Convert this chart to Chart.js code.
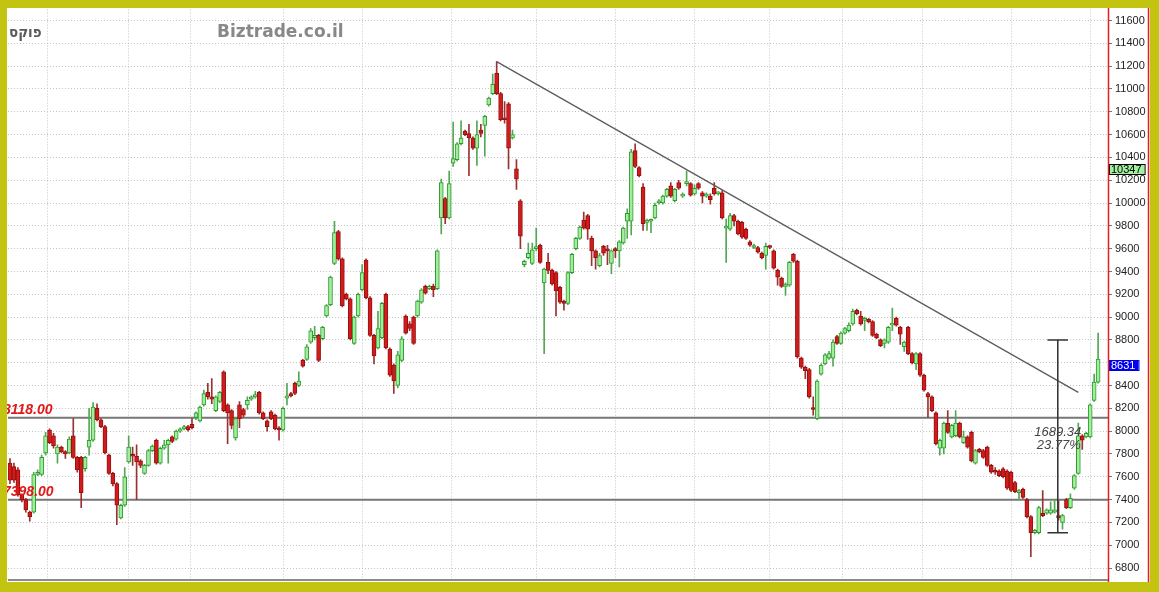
<!DOCTYPE html>
<html>
<head>
<meta charset="utf-8">
<script src="https://cdn.jsdelivr.net/npm/chart.js@4.4.1/dist/chart.umd.min.js"></script>
<style>
  body { margin: 0; background: #c3c312; }
  canvas { display: block; }
</style>
</head>
<body>
<canvas id="chart" width="1159" height="592"></canvas>
<script>
// daily candles
const openP = [
  7720, 7690, 7660, 7440, 7400, 7290, 7290, 7620, 7620, 7810,
  8010, 7960, 7800, 7860, 7820, 7810, 7960, 7770, 7770, 7670,
  7860, 7920, 8200, 8100, 8040, 7790, 7630, 7540, 7240, 7350,
  7730, 7790, 7780, 7740, 7630, 7700, 7830, 7920, 7720, 7850,
  7880, 7950, 7930, 8000, 8020, 8040, 8060, 8120, 8090, 8230,
  8340, 8300, 8180, 8260, 8520, 8230, 8180, 7940, 8230, 8190,
  8230, 8280, 8300, 8340, 8160, 8090, 8170, 8140, 8030, 8010,
  8290, 8330, 8420, 8400, 8620, 8630, 8780, 8820, 8840, 8810,
  9010, 9110, 9470, 9750, 9510, 9200, 9160, 8770, 9010, 9240,
  9500, 9170, 8840, 8730, 8820, 9200, 8720, 8580, 8400, 8620,
  9010, 8940, 9000, 9010, 9130, 9270, 9250, 9270, 9250, 9870,
  10040, 9870, 10350, 10380, 10520, 10630, 10610, 10570, 10480, 10640,
  10680, 10860, 10960, 11140, 10960, 10740, 10870, 10570, 10300, 10020,
  9460, 9520, 9470, 9600, 9630, 9300, 9480, 9410, 9390, 9260,
  9140, 9120, 9390, 9600, 9690, 9850, 9890, 9690, 9580, 9450,
  9620, 9590, 9470, 9600, 9580, 9650, 9840, 9840, 10460, 10310,
  10140, 9830, 9840, 9870, 10000, 10000, 10060, 10150, 10020, 10180,
  10060, 10170, 10170, 10080, 10170, 10090, 10060, 10060, 10130, 10080,
  10090, 9780, 9770, 9890, 9840, 9830, 9770, 9660, 9610, 9610,
  9560, 9540, 9620, 9580, 9410, 9340, 9270, 9280, 9550, 9490,
  8640, 8560, 8540, 8200, 8110, 8500, 8590, 8640, 8640, 8830,
  8770, 8860, 8880, 8940, 9060, 9010, 8970, 8980, 8960, 8850,
  8800, 8770, 8780, 8930, 8990, 8910, 8740, 8910, 8680, 8590,
  8680, 8490, 8330, 8300, 8160, 7850, 7850, 8070, 7950, 7960,
  8070, 7900, 7950, 7990, 7720, 7840, 7830, 7860, 7700, 7650,
  7650, 7670, 7650, 7640, 7550, 7460, 7490, 7400, 7250, 7110,
  7110, 7280, 7280, 7280, 7290, 7260, 7200, 7400, 7330, 7500,
  7630, 7960, 7950, 7950, 8270, 8430
];
const highP = [
  7760, 7720, 7680, 7450, 7410, 7300, 7640, 7660, 7790, 7990,
  8020, 7980, 7880, 7870, 7830, 7950, 8110, 7780, 7780, 7780,
  8200, 8250, 8240, 8110, 8050, 7800, 7640, 7550, 7360, 7680,
  7960, 7860, 7880, 7750, 7710, 7840, 7880, 7930, 7860, 7920,
  7930, 7960, 8010, 8030, 8050, 8050, 8110, 8170, 8220, 8360,
  8420, 8460, 8310, 8350, 8530, 8240, 8190, 8120, 8260, 8200,
  8300, 8310, 8350, 8350, 8170, 8100, 8180, 8150, 8040, 8210,
  8420, 8340, 8430, 8520, 8630, 8760, 8900, 8920, 8850, 8920,
  9110, 9360, 9840, 9760, 9520, 9210, 9170, 9010, 9210, 9460,
  9510, 9180, 8850, 9050, 9130, 9210, 8730, 8590, 8700, 8830,
  9020, 8960, 9010, 9150, 9250, 9280, 9280, 9290, 9590, 10210,
  10050, 10280, 10710, 10530, 10720, 10640, 10690, 10580, 10720, 10690,
  10770, 10930, 11130, 11240, 10970, 10890, 10880, 10640, 10380, 10030,
  9500, 9650, 9650, 9780, 9640, 9430, 9560, 9420, 9400, 9270,
  9150, 9400, 9560, 9700, 9800, 9920, 9900, 9710, 9590, 9560,
  9630, 9630, 9590, 9610, 9670, 9790, 9950, 10470, 10520, 10320,
  10170, 9860, 9860, 10000, 10030, 10070, 10130, 10180, 10130, 10200,
  10090, 10280, 10180, 10160, 10180, 10100, 10090, 10080, 10180, 10100,
  10110, 9860, 9910, 9900, 9850, 9840, 9780, 9670, 9640, 9620,
  9570, 9650, 9630, 9590, 9420, 9350, 9300, 9490, 9560, 9500,
  8650, 8570, 8550, 8300, 8450, 8590, 8680, 8700, 8800, 8840,
  8870, 8910, 8950, 9070, 9070, 9050, 9000, 8990, 8970, 8860,
  8810, 8810, 8920, 9080, 9000, 8920, 8790, 8920, 8690, 8690,
  8690, 8500, 8340, 8310, 8170, 7930, 8080, 8180, 8060, 8180,
  8080, 8000, 7960, 8000, 7840, 7850, 7840, 7870, 7710, 7680,
  7660, 7680, 7660, 7650, 7560, 7490, 7500, 7410, 7260, 7140,
  7340, 7480, 7320, 7380, 7400, 7390, 7270, 7410, 7450, 7620,
  8070, 7970, 7990, 8240, 8500, 8860
];
const lowP = [
  7540, 7550, 7430, 7380, 7290, 7210, 7280, 7610, 7610, 7790,
  7890, 7850, 7720, 7810, 7760, 7800, 7760, 7640, 7330, 7650,
  7790, 7910, 8090, 8030, 7800, 7620, 7520, 7180, 7230, 7340,
  7720, 7700, 7400, 7680, 7620, 7690, 7820, 7710, 7710, 7840,
  7720, 7900, 7920, 7990, 8010, 8000, 8020, 8100, 8080, 8220,
  8280, 8240, 8170, 8250, 8170, 7890, 8020, 7920, 8030, 8120,
  8190, 8270, 8290, 8150, 8100, 8000, 8100, 8010, 7920, 8000,
  8230, 8300, 8320, 8390, 8560, 8620, 8770, 8800, 8610, 8800,
  9000, 9100, 9460, 9500, 9090, 9150, 8800, 8760, 9000, 9230,
  9160, 8830, 8590, 8720, 8810, 8720, 8480, 8330, 8380, 8610,
  8850, 8880, 8760, 9000, 9120, 9200, 9240, 9180, 9240, 9730,
  9820, 9860, 10320, 10370, 10510, 10590, 10240, 10470, 10330, 10580,
  10410, 10850, 10950, 10950, 10720, 10700, 10300, 10560, 10120, 9600,
  9440, 9510, 9460, 9580, 9470, 8680, 9380, 9280, 9010, 9120,
  9060, 9110, 9380, 9590, 9680, 9770, 9680, 9450, 9420, 9440,
  9540, 9460, 9380, 9520, 9440, 9640, 9690, 9720, 10310, 10230,
  9760, 9760, 9740, 9860, 9990, 9990, 10050, 10050, 10010, 10120,
  10050, 10150, 10060, 10070, 10120, 10000, 10050, 9990, 10070, 10070,
  9860, 9480, 9760, 9800, 9720, 9690, 9680, 9620, 9600, 9560,
  9510, 9420, 9600, 9420, 9280, 9260, 9190, 9270, 9480, 8640,
  8550, 8460, 8290, 8140, 8100, 8490, 8580, 8630, 8570, 8760,
  8760, 8850, 8870, 8930, 9020, 8930, 8880, 8950, 8830, 8810,
  8740, 8730, 8770, 8880, 8920, 8760, 8700, 8670, 8590, 8540,
  8480, 8350, 8120, 8170, 7880, 7790, 7800, 7980, 7940, 7950,
  7940, 7890, 7850, 7730, 7710, 7810, 7760, 7690, 7630, 7620,
  7600, 7590, 7490, 7470, 7460, 7400, 7410, 7240, 6900, 7100,
  7100, 7250, 7270, 7270, 7280, 7220, 7140, 7320, 7320, 7490,
  7620, 7840, 7940, 7940, 8260, 8420
];
const closeP = [
  7570, 7570, 7440, 7400, 7310, 7250, 7620, 7640, 7770, 7960,
  7900, 7870, 7860, 7820, 7800, 7930, 7770, 7660, 7460, 7770,
  7920, 8210, 8100, 8040, 7810, 7630, 7540, 7350, 7350, 7600,
  7860, 7780, 7730, 7700, 7700, 7830, 7870, 7720, 7850, 7880,
  7920, 7910, 8000, 8020, 8040, 8010, 8030, 8160, 8210, 8330,
  8300, 8280, 8300, 8340, 8180, 8160, 8050, 8110, 8110, 8140,
  8270, 8300, 8320, 8160, 8110, 8040, 8110, 8020, 8010, 8200,
  8310, 8310, 8330, 8440, 8570, 8740, 8880, 8840, 8620, 8910,
  9100, 9350, 9740, 9510, 9100, 9160, 8810, 9000, 9200, 9390,
  9170, 8840, 8660, 8900, 9120, 8730, 8490, 8440, 8670, 8810,
  8860, 8900, 8770, 9140, 9240, 9210, 9270, 9240, 9580, 10180,
  9870, 10170, 10390, 10520, 10570, 10600, 10570, 10480, 10600, 10610,
  10760, 10920, 11040, 10960, 10730, 10730, 10480, 10600, 10210, 9710,
  9490, 9560, 9590, 9610, 9480, 9420, 9410, 9290, 9230, 9130,
  9120, 9390, 9550, 9690, 9790, 9780, 9770, 9580, 9520, 9540,
  9560, 9580, 9580, 9580, 9660, 9780, 9910, 10450, 10320, 10240,
  9820, 9850, 9850, 9980, 10020, 10060, 10120, 10060, 10120, 10130,
  10070, 10170, 10070, 10130, 10130, 10060, 10070, 10030, 10080, 10090,
  9870, 9790, 9890, 9840, 9730, 9700, 9690, 9630, 9620, 9570,
  9520, 9620, 9610, 9430, 9350, 9270, 9290, 9480, 9490, 8650,
  8560, 8530, 8300, 8190, 8440, 8580, 8670, 8680, 8780, 8770,
  8860, 8900, 8930, 9050, 9030, 8940, 8990, 8960, 8840, 8820,
  8750, 8800, 8910, 8940, 8930, 8850, 8780, 8680, 8600, 8680,
  8490, 8360, 8300, 8180, 7890, 7920, 8070, 7990, 8050, 8070,
  7950, 7950, 7860, 7740, 7830, 7820, 7770, 7700, 7640, 7640,
  7610, 7600, 7500, 7480, 7470, 7480, 7420, 7250, 7110, 7130,
  7330, 7260, 7310, 7310, 7310, 7240, 7260, 7330, 7410, 7610,
  7960, 7920, 7980, 8230, 8430, 8631
];

// month boundaries (candle index) and price ticks
const monthBreaks = [9.5, 30, 45.5, 69, 89, 111.5, 133, 153, 173, 192, 210.5, 230.5, 253, 273];
const yTicks = [6800, 7000, 7200, 7400, 7600, 7800, 8000, 8200, 8400, 8600, 8800, 9000,
  9200, 9400, 9600, 9800, 10000, 10200, 10400, 10600, 10800, 11000, 11200, 11400, 11600];

// drawings on the chart
const levels = [8118, 7398];
const trendX = [123, 270];
const trendY = [11240, 8340];
const measureX = 264.8;
const measureY = [8800, 7110];
const measureText = ['1689.34', '23.77%'];
const axisMarks = [
  { value: 10347, bg: '#a2f0a2', fg: '#000', border: '#000' },
  { value: 8631, bg: '#0000ee', fg: '#fff', border: '#0000ee' }
];

const YELLOW = '#c3c312';

const idx = openP.map((_, i) => i);
const up = idx.map(i => closeP[i] >= openP[i]);

const framePlugin = {
  id: 'frame',
  beforeDraw(chart) {
    const ctx = chart.ctx;
    ctx.save();
    ctx.fillStyle = '#fff';
    ctx.fillRect(0, 0, chart.width, chart.height);
    ctx.restore();
  },
  afterDatasetsDraw(chart) {
    const ctx = chart.ctx;
    const x = chart.scales.x, y = chart.scales.y;
    ctx.save();
    // level labels
    ctx.fillStyle = '#e01818';
    ctx.font = 'italic bold 14px "Liberation Sans", Arial, sans-serif';
    ctx.textAlign = 'left';
    ctx.textBaseline = 'alphabetic';
    levels.forEach(v => {
      ctx.fillText(v.toFixed(2), 3, y.getPixelForValue(v) - 4);
    });
    // measurement text
    ctx.fillStyle = '#444';
    ctx.font = 'italic 13px "Liberation Sans", Arial, sans-serif';
    ctx.textAlign = 'center';
    const mx = x.getPixelForValue(measureX);
    ctx.fillText(measureText[0], mx, 436);
    ctx.fillText(measureText[1], mx + 1, 449);

    // header texts
    ctx.textAlign = 'left';
    ctx.fillStyle = '#5a5a5a';
    ctx.font = 'bold 15px "DejaVu Sans Condensed", "DejaVu Sans", sans-serif';
    ctx.fillText('פוקס', 9, 37);
    ctx.fillStyle = '#888';
    ctx.font = 'bold 17px "DejaVu Sans", sans-serif';
    ctx.fillText('Biztrade.co.il', 217, 37);

    // bottom axis line
    ctx.strokeStyle = '#8a8a8a';
    ctx.lineWidth = 2;
    ctx.beginPath();
    ctx.moveTo(chart.chartArea.left, 580);
    ctx.lineTo(chart.chartArea.right, 580);
    ctx.stroke();
    ctx.restore();
  },
  afterDraw(chart) {
    const ctx = chart.ctx;
    const y = chart.scales.y;
    const right = chart.chartArea.right;
    ctx.save();
    // price boxes on the axis
    ctx.font = '11px "Liberation Sans", Arial, sans-serif';
    ctx.textBaseline = 'middle';
    ctx.textAlign = 'left';
    axisMarks.forEach(m => {
      const top = Math.round(y.getPixelForValue(m.value)) + 1;
      const txt = String(m.value);
      const w = ctx.measureText(txt).width + 5;
      ctx.fillStyle = m.bg;
      ctx.fillRect(right + 1, top, w, 11);
      ctx.strokeStyle = m.border;
      ctx.lineWidth = 1;
      ctx.strokeRect(right + 1.5, top + 0.5, w, 10);
      ctx.fillStyle = m.fg;
      ctx.fillText(txt, right + 3, top + 6);
    });
    // frame
    ctx.fillStyle = YELLOW;
    ctx.fillRect(0, 0, 7, chart.height);
    ctx.fillRect(0, 0, chart.width, 8);
    ctx.fillRect(1150, 0, chart.width - 1150, chart.height);
    ctx.fillRect(0, 582, chart.width, chart.height - 582);
    // red separators
    ctx.strokeStyle = '#e02020';
    ctx.lineWidth = 1.5;
    ctx.beginPath();
    ctx.moveTo(right + 0.5, 8); ctx.lineTo(right + 0.5, 582);
    ctx.moveTo(1148.5, 8); ctx.lineTo(1148.5, 582);
    ctx.stroke();
    ctx.restore();
  }
};

const lineBase = { type: 'line', pointRadius: 0, fill: false, tension: 0 };

new Chart(document.getElementById('chart'), {
  type: 'bar',
  data: {
    datasets: [
      {
        ...lineBase,
        data: [{ x: -0.5, y: levels[0] }, { x: 277.5, y: levels[0] }],
        borderColor: '#777', borderWidth: 2, order: 10
      },
      {
        ...lineBase,
        data: [{ x: -0.5, y: levels[1] }, { x: 277.5, y: levels[1] }],
        borderColor: '#777', borderWidth: 2, order: 10
      },
      {
        label: 'wicks',
        data: idx.map(i => ({ x: i, y: [lowP[i], highP[i]] })),
        backgroundColor: up.map(u => u ? '#52a852' : '#9b3232'),
        borderWidth: 0,
        barThickness: 1,
        grouped: false,
        order: 6
      },
      {
        label: 'candles',
        data: idx.map(i => ({ x: i, y: [openP[i], closeP[i]] })),
        backgroundColor: up.map(u => u ? '#a0ee9c' : '#d21c1c'),
        borderColor: up.map(u => u ? '#2f9a2f' : '#961010'),
        borderWidth: 1,
        borderSkipped: false,
        barThickness: 4,
        minBarLength: 2,
        grouped: false,
        order: 5
      },
      {
        ...lineBase,
        data: [{ x: trendX[0], y: trendY[0] }, { x: trendX[1], y: trendY[1] }],
        borderColor: '#5a5a5a', borderWidth: 1.2, order: 1
      },
      {
        ...lineBase,
        data: [{ x: measureX, y: measureY[0] }, { x: measureX, y: measureY[1] }],
        borderColor: '#333', borderWidth: 1, order: 0
      },
      {
        ...lineBase,
        data: [{ x: measureX - 2.6, y: measureY[0] }, { x: measureX + 2.6, y: measureY[0] }],
        borderColor: '#333', borderWidth: 1.5, order: 0
      },
      {
        ...lineBase,
        data: [{ x: measureX - 2.6, y: measureY[1] }, { x: measureX + 2.6, y: measureY[1] }],
        borderColor: '#333', borderWidth: 1.5, order: 0
      }
    ]
  },
  options: {
    responsive: false,
    animation: false,
    layout: { padding: { left: 8, top: 8, right: 11, bottom: 12 } },
    plugins: {
      legend: { display: false },
      tooltip: { enabled: false }
    },
    scales: {
      x: {
        type: 'linear',
        min: -0.5,
        max: 277.5,
        offset: false,
        afterBuildTicks: s => { s.ticks = monthBreaks.map(v => ({ value: v })); },
        afterFit: s => { s.height = 0; },
        ticks: { display: false },
        grid: { color: '#c4c4c4', drawTicks: false, offset: false },
        border: { display: false, dash: [1, 2] }
      },
      y: {
        position: 'right',
        min: 6695,
        max: 11696,
        afterBuildTicks: s => { s.ticks = yTicks.map(v => ({ value: v })); },
        afterFit: s => { s.width = 40; },
        ticks: {
          padding: 3,
          color: '#222',
          font: { family: '"Liberation Sans", Arial, sans-serif', size: 11 },
          // the price box hides the label right under it
          callback: v => axisMarks.some(m => Math.abs(m.value - v) < 40) ? '' : String(v)
        },
        grid: { color: '#c4c4c4', tickColor: '#777', tickLength: 4, tickBorderDash: [] },
        border: { display: false, dash: [1, 2] }
      }
    }
  },
  plugins: [framePlugin]
});
</script>
</body>
</html>
